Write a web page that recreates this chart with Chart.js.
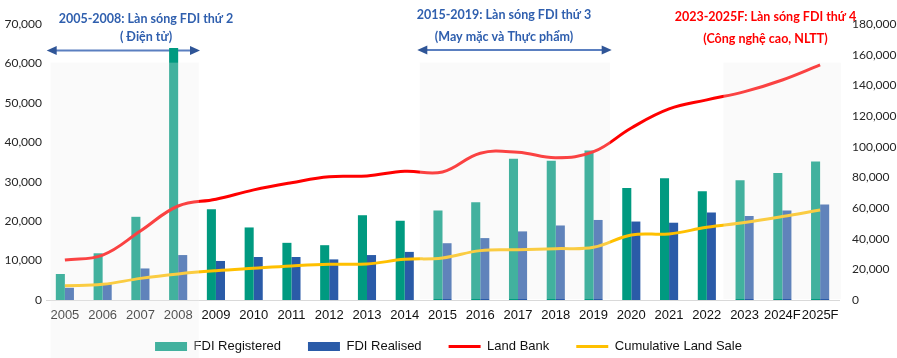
<!DOCTYPE html>
<html><head><meta charset="utf-8">
<script src="https://cdn.jsdelivr.net/npm/chart.js@4"></script>
<style>html,body{margin:0;padding:0;background:#fff;}#wrap{width:897px;height:358px;position:relative;}</style>
</head><body><div id="wrap"><canvas id="c" width="897" height="358"></canvas></div>
<script>
const categories = ['2005','2006','2007','2008','2009','2010','2011','2012','2013','2014','2015','2016','2017','2018','2019','2020','2021','2022','2023','2024F','2025F'];
const fdiRegistered = [6600,11850,21100,63900,23000,18400,14500,13900,21500,20100,22700,24800,35800,35300,37900,28400,30900,27600,30400,32200,35100];
const fdiRealised = [3100,4000,8000,11400,9900,10900,10900,10300,11400,12200,14400,15700,17400,18900,20300,19900,19600,22200,21300,22700,24200];
const landBank = [26100,29300,45000,61300,65700,71800,76500,80400,80900,84000,83500,95700,96300,92800,96700,112200,124600,130500,135900,143500,153300];
const landSale = [9300,10200,14100,17000,19100,20700,22200,23300,23500,26500,27400,32200,32800,33500,34400,42400,43100,47400,50500,54400,58700];
const seriesNames = ['FDI Registered','FDI Realised','Land Bank','Cumulative Land Sale'];
const waveTitles = ['2005-2008: Làn sóng FDI thứ 2','2015-2019: Làn sóng FDI thứ 3','2023-2025F: Làn sóng FDI thứ 4'];
const waveSubtitles = ['( Điện tử)','(May mặc và Thực phẩm)','(Công nghệ cao, NLTT)'];
const waveStart = ['2005','2015','2023'];
const waveEnd = ['2008','2019','2025F'];

const BLUE_TXT = '#2f5fae';
const waveStyle = [
  {color: BLUE_TXT, cx: 146, y1: 18.5, y2: 36.5, arrow: [46.7, 200, 50.5], toBottom: true},
  {color: BLUE_TXT, cx: 504, y1: 15, y2: 36.5, arrow: [417.3, 611.7, 50], toBottom: false},
  {color: '#ff0000', cx: 765.5, y1: 16.5, y2: 38.5, arrow: null, toBottom: false}
];
const shadeFrac = [[-0.38, 0.55], [-0.6, 0.44], [-0.56, 0.55]];
const LEGEND_TOP = 313;

function drawArrow(ctx, x0, x1, y) {
  ctx.save();
  ctx.strokeStyle = '#5a7fc0';
  ctx.lineWidth = 2;
  ctx.beginPath(); ctx.moveTo(x0 + 8, y); ctx.lineTo(x1 - 8, y); ctx.stroke();
  ctx.fillStyle = '#2f5597';
  ctx.beginPath(); ctx.moveTo(x0, y); ctx.lineTo(x0 + 10, y - 4.5); ctx.lineTo(x0 + 10, y + 4.5); ctx.closePath(); ctx.fill();
  ctx.beginPath(); ctx.moveTo(x1, y); ctx.lineTo(x1 - 10, y - 4.5); ctx.lineTo(x1 - 10, y + 4.5); ctx.closePath(); ctx.fill();
  ctx.restore();
}

const wavesPlugin = {
  id: 'waves',
  afterLayout(chart) {
    const lg = chart.legend;
    if (lg) { const h = lg.bottom - lg.top; lg.top = LEGEND_TOP; lg.bottom = LEGEND_TOP + h; }
  },
  beforeDatasetsDraw(chart) {
    const ctx = chart.ctx;
    ctx.save();
    ctx.textAlign = 'center';
    ctx.textBaseline = 'middle';
    ctx.font = 'bold 12.5px Lato';
    waveTitles.forEach((t, i) => {
      const s = waveStyle[i];
      ctx.fillStyle = s.color;
      ctx.fillText(t, s.cx, s.y1);
      ctx.fillText(waveSubtitles[i], s.cx, s.y2);
      if (s.arrow) drawArrow(ctx, s.arrow[0], s.arrow[1], s.arrow[2]);
    });
    ctx.restore();
  },
  afterDraw(chart) {
    const ctx = chart.ctx;
    const x = chart.scales.x;
    const yl = chart.scales.y;
    const cw = (x.getPixelForValue(1) - x.getPixelForValue(0));
    const top = yl.getPixelForValue(60200);
    ctx.save();
    ctx.fillStyle = 'rgba(236,236,236,0.28)';
    waveStart.forEach((s, i) => {
      const a = x.getPixelForValue(categories.indexOf(s)) + shadeFrac[i][0] * cw;
      const b = x.getPixelForValue(categories.indexOf(waveEnd[i])) + shadeFrac[i][1] * cw;
      const bottom = waveStyle[i].toBottom ? chart.height : chart.chartArea.bottom - 1;
      ctx.fillRect(a, top, b - a, bottom - top);
    });
    ctx.restore();
  }
};

const ctx = document.getElementById('c').getContext('2d');
new Chart(ctx, {
  type: 'bar',
  data: {
    labels: categories,
    datasets: [
      {type: 'bar', label: seriesNames[0], data: fdiRegistered, backgroundColor: '#009a80', borderWidth: 0, yAxisID: 'y', order: 3, categoryPercentage: 0.48, barPercentage: 1},
      {type: 'bar', label: seriesNames[1], data: fdiRealised, backgroundColor: '#2a5ba8', borderWidth: 0, yAxisID: 'y', order: 3, categoryPercentage: 0.48, barPercentage: 1},
      {type: 'line', label: seriesNames[2], data: landBank, borderColor: '#ff0000', backgroundColor: '#ff0000', borderWidth: 3, pointRadius: 0, tension: 0.4, yAxisID: 'y1', order: 1},
      {type: 'line', label: seriesNames[3], data: landSale, borderColor: '#ffc000', backgroundColor: '#ffc000', borderWidth: 3, pointRadius: 0, tension: 0.4, yAxisID: 'y1', order: 2}
    ]
  },
  options: {
    responsive: false,
    animation: false,
    layout: {padding: {top: 24, bottom: -16, left: 0, right: 0}},
    plugins: {
      tooltip: {enabled: false},
      legend: {
        position: 'bottom',
        labels: {
          font: {family: 'Liberation Sans', size: 13},
          color: '#111',
          padding: 27,
          usePointStyle: true,
          pointStyleWidth: 32,
          boxHeight: 9,
          sort: (a, b) => a.datasetIndex - b.datasetIndex,
          generateLabels(chart) {
            const items = Chart.defaults.plugins.legend.labels.generateLabels(chart);
            items.forEach(it => {
              const ds = chart.data.datasets[it.datasetIndex];
              if (ds.type === 'line') { it.pointStyle = 'line'; it.lineWidth = 3; it.strokeStyle = ds.borderColor; }
              else { it.pointStyle = 'rect'; it.lineWidth = 0; it.fillStyle = ds.backgroundColor; }
            });
            return items;
          }
        }
      }
    },
    scales: {
      x: {
        grid: {display: false, drawTicks: false},
        border: {display: true, color: '#d9d9d9', width: 1},
        ticks: {font: {family: 'Liberation Sans', size: 13}, color: '#111', padding: 8, maxRotation: 0, autoSkip: false},
        afterFit(s) { s.height = 24; }
      },
      y: {
        position: 'left', min: 0, max: 70000,
        grid: {display: false, drawTicks: false},
        border: {display: false},
        ticks: {stepSize: 10000, font: {family: 'Lato', size: 12}, color: '#262626', padding: 4},
        afterFit(s) { s.width = 46; }
      },
      y1: {
        position: 'right', min: 0, max: 180000,
        grid: {display: false, drawTicks: false},
        border: {display: false},
        ticks: {stepSize: 20000, font: {family: 'Lato', size: 12}, color: '#262626', padding: 13},
        afterFit(s) { s.width = 58; }
      }
    }
  },
  plugins: [wavesPlugin]
});
</script></body></html>
